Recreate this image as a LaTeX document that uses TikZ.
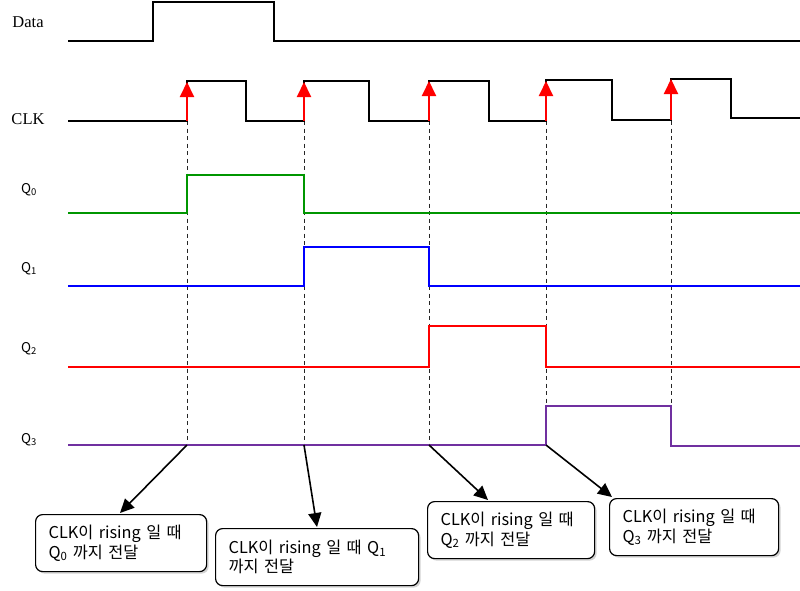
\documentclass[tikz,border=0pt]{standalone}
\usepackage{fontspec}
\setmainfont{Liberation Serif}
\newfontfamily\kr{Noto Sans CJK KR}
\usetikzlibrary{arrows.meta,shadows}
\definecolor{qgreen}{RGB}{0,150,0}
\definecolor{qblue}{RGB}{0,0,255}
\definecolor{qred}{RGB}{255,0,0}
\definecolor{qpurple}{RGB}{112,48,160}
\tikzset{
  wave/.style={line width=2pt, line join=miter},
  guide/.style={line width=1pt, dash pattern=on 4pt off 3.5pt, black!85},
  edgearrow/.style={qred, line width=2pt, -{Triangle[length=15pt,width=14pt]}},
  callout/.style={black, line width=1.6pt, -{Triangle[length=14pt,width=13pt]}},
  serlabel/.style={font=\fontsize{16.5}{19}\selectfont},
  qlabel/.style={font=\kr\fontsize{13.5}{15}\selectfont},
  note/.style={draw, line width=1.2pt, rounded corners=7pt, fill=white,
    drop shadow={shadow xshift=2pt, shadow yshift=-2pt, opacity=0.35},
    anchor=north west, inner xsep=13pt, inner ysep=0pt, align=left,
    font=\kr\fontsize{16.3}{19.5}\selectfont}
}
\begin{document}
\begin{tikzpicture}[x=1pt,y=-1pt]
\useasboundingbox (0,0) rectangle (800,590);
% labels
\node[serlabel] (ldata) at (28,22) {Data};
\node[serlabel] (lclk) at (28,119) {CLK};
\node[qlabel] (lq0) at (29,190) {Q\textsubscript{0}};
\node[qlabel] (lq1) at (29,269) {Q\textsubscript{1}};
\node[qlabel] (lq2) at (29,349) {Q\textsubscript{2}};
\node[qlabel] (lq3) at (29,440) {Q\textsubscript{3}};
% guide lines
\foreach \x in {187,304,429,546,671} \draw[guide] (\x,121) -- (\x,445);
% waveforms
\draw[wave] (68,41) -- (153,41) -- (153,2) -- (274,2) -- (274,41) -- (800,41);
\draw[wave] (68,121) -| (187,81) -| (246,121) -| (304,81) -| (369,121) -| (429,81)
  -| (489,121) -| (546,80) -| (612,120) -| (671,79) -| (731,118) -- (800,118);
\draw[wave, qgreen] (68,213) -| (187,175) -| (304,213) -- (800,213);
\draw[wave, qblue] (68,286) -| (304,247) -| (429,286) -- (800,286);
\draw[wave, qred] (68,367) -| (429,326) -| (546,367) -- (800,367);
\draw[wave, qpurple] (68,445) -| (546,406) -| (671,446) -- (800,446);
% rising edge arrows
\coordinate (r1a) at (187,121); \coordinate (r1b) at (187,82);
\coordinate (r2a) at (304,121); \coordinate (r2b) at (304,82);
\coordinate (r3a) at (429,121); \coordinate (r3b) at (429,81);
\coordinate (r4a) at (546,121); \coordinate (r4b) at (546,81);
\coordinate (r5a) at (671,120); \coordinate (r5b) at (671,79);
\draw[edgearrow] (r1a) -- (r1b);
\draw[edgearrow] (r2a) -- (r2b);
\draw[edgearrow] (r3a) -- (r3b);
\draw[edgearrow] (r4a) -- (r4b);
\draw[edgearrow] (r5a) -- (r5b);
% notes
\node[note, text width=145pt, minimum height=57pt] (b1) at (35,514) {CLK이 rising 일 때\\Q\textsubscript{0} 까지 전달};
\node[note, text width=177pt, minimum height=57pt] (b2) at (215,528) {CLK이 rising 일 때 Q\textsubscript{1}\\까지 전달};
\node[note, text width=141pt, minimum height=57pt] (b3) at (427,501) {CLK이 rising 일 때\\Q\textsubscript{2} 까지 전달};
\node[note, text width=143pt, minimum height=57pt] (b4) at (609,498) {CLK이 rising 일 때\\Q\textsubscript{3} 까지 전달};
% callouts
\coordinate (s1) at (187,445); \coordinate (t1) at (120,513);
\coordinate (s2) at (304,445); \coordinate (t2) at (317,527);
\coordinate (s3) at (429,445); \coordinate (t3) at (488,500);
\coordinate (s4) at (546,445); \coordinate (t4) at (612,497);
\draw[callout] (s1) -- (t1);
\draw[callout] (s2) -- (t2);
\draw[callout] (s3) -- (t3);
\draw[callout] (s4) -- (t4);
\end{tikzpicture}
\end{document}
